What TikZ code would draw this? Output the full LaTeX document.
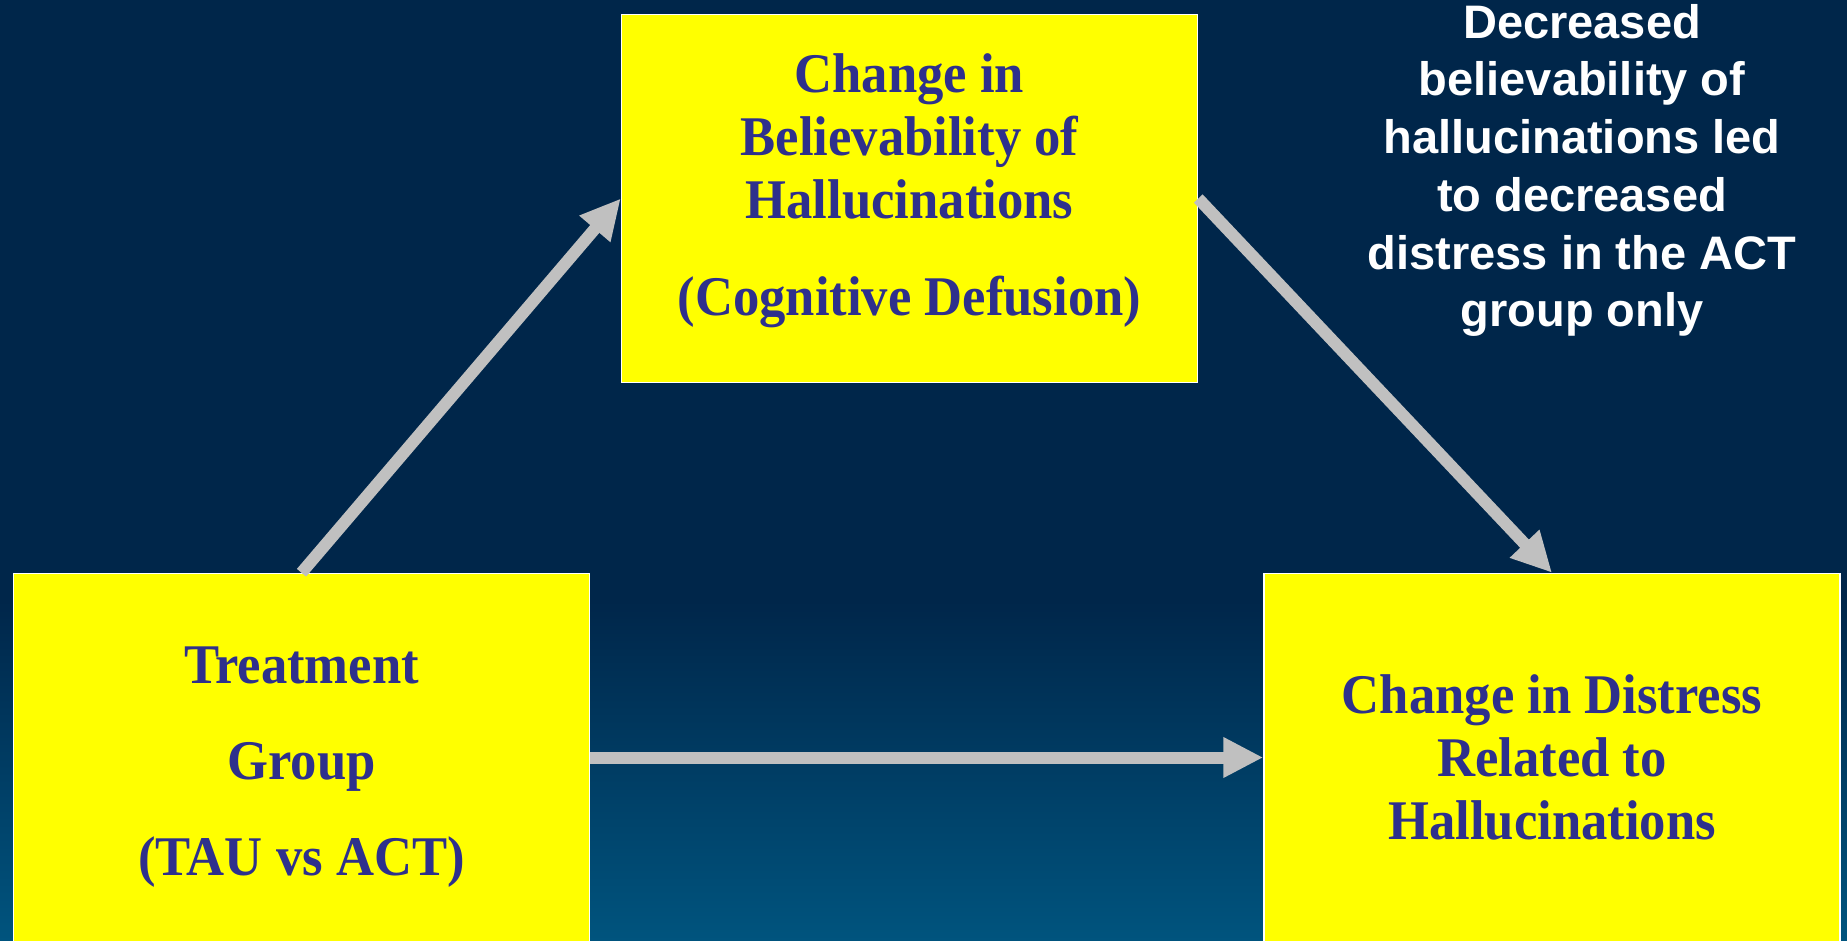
\documentclass[tikz,border=0pt]{standalone}
\usepackage{fontspec}
\setmainfont{Liberation Serif}[FakeStretch=0.94]
\newfontfamily\notefont{Liberation Sans}
\usetikzlibrary{positioning,arrows.meta}
\definecolor{slidebg}{RGB}{0,38,74}
\definecolor{slidelow}{RGB}{0,84,126}
\definecolor{boxfill}{RGB}{255,255,0}
\definecolor{boxtext}{RGB}{46,48,140}
\definecolor{arrowgray}{RGB}{192,192,192}

\begin{document}
\begin{tikzpicture}[x=1pt,y=-1pt,
    box/.style={rectangle,draw=white,line width=1.5pt,fill=boxfill,
        minimum width=576pt,minimum height=368pt,inner sep=0pt,
        align=center,text=boxtext,font=\fontsize{56}{63}\selectfont\bfseries},
    link/.style={draw=arrowgray,line width=12pt,-{Triangle[length=40pt,width=38pt]}}]

            \useasboundingbox (0,0) rectangle (1847,941);
            \clip (0,0) rectangle (1847,941);
            % slide background
            \fill[slidebg] (0,0) rectangle (1847,600);
            \shade[top color=slidebg,bottom color=slidelow] (0,600) rectangle (1847,941);

            \node[box](treat) at (301.5,757.5){\rule{0pt}{56pt}Treatment\\[33pt] Group\\[33pt] (TAU vs ACT)};
            \node[box](distress)[right =673pt of treat]{Change in Distress\\ Related to\\ Hallucinations};
            \node[box](belief) at (909.5,198.5){Change in\\ Believability of\\ Hallucinations\\[34pt] (Cognitive Defusion)\rule[-28pt]{0pt}{0pt}};

            \node[text=white,font=\notefont\fontsize{47}{57.7}\selectfont\bfseries,
                align=center,anchor=north,inner sep=0pt](note) at (1582,4)
                {Decreased\\ believability of\\ hallucinations led\\ to decreased\\ distress in the ACT\\ group only};

            \draw[link](treat.north) -- (belief.west);
            \draw[link](belief.east) -- (distress.north);
            \draw[link](treat.east) -- (distress.west);
        \end{tikzpicture}
\end{document}
